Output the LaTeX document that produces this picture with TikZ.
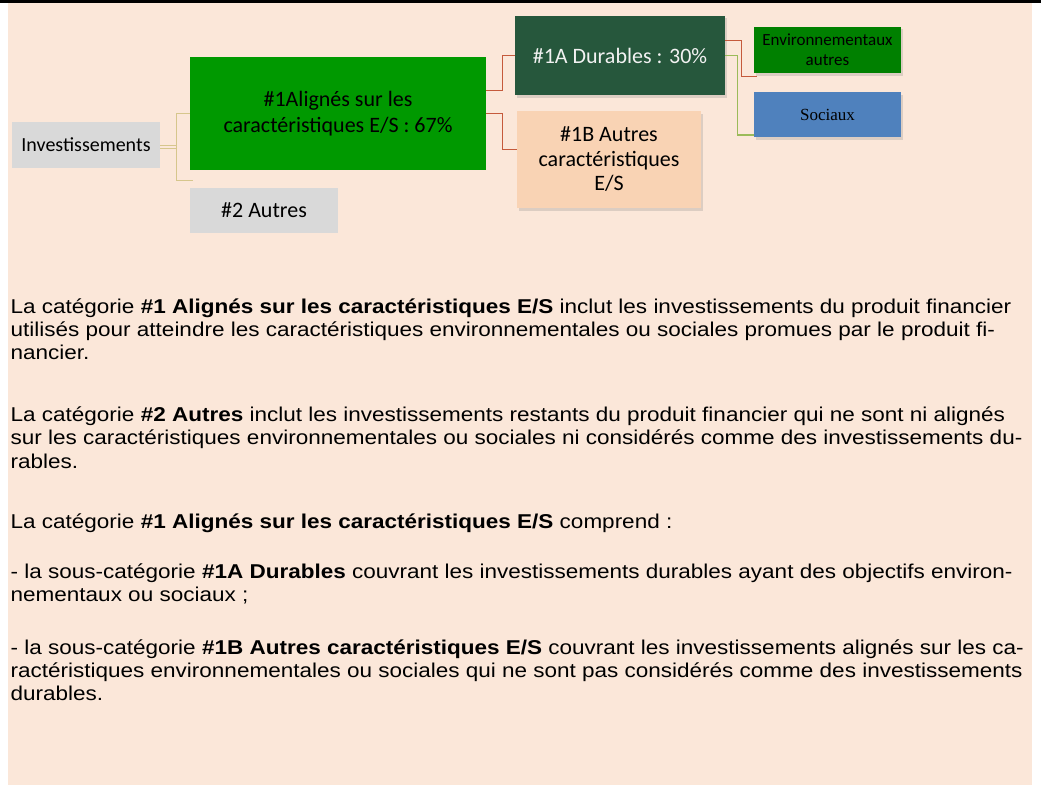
\documentclass[tikz,border=0pt]{standalone}
\usepackage{fontspec}
\setmainfont{Liberation Sans}[FakeStretch=1.125]
\newfontfamily\calfont{Carlito}
\newfontfamily\tmsfont{Liberation Serif}
\usetikzlibrary{shadows}
\definecolor{bgpeach}{HTML}{FBE7D9}
\definecolor{boxgray}{HTML}{D9D9D9}
\definecolor{algreen}{HTML}{009900}
\definecolor{darkgreen}{HTML}{26573C}
\definecolor{lightorange}{HTML}{F9D3B4}
\definecolor{envgreen}{HTML}{008000}
\definecolor{socblue}{HTML}{4F81BD}
\definecolor{redline}{HTML}{C55A3C}
\definecolor{oliveline}{HTML}{9BBB59}
\definecolor{tanline}{HTML}{D6C68C}
\definecolor{offwhite}{HTML}{F2F2F2}
\begin{document}
\begin{tikzpicture}[x=1pt,y=-1pt,
  boxbase/.style={draw=none, inner sep=0pt, align=center, font=\calfont\fontsize{22}{26}\selectfont},
  shadowed/.style={drop shadow={opacity=0.25, shadow xshift=2pt, shadow yshift=-2.5pt}},
  tanc/.style={draw=tanline, line width=1.2pt},
  redc/.style={draw=redline, line width=1.3pt},
  olivec/.style={draw=oliveline, line width=1.3pt},
  para/.style={anchor=base west, inner sep=0pt, font=\fontsize{20}{23}\selectfont}]
\useasboundingbox (0,0) rectangle (1041,792);
\fill[white] (0,0) rectangle (1041,792);
\fill[bgpeach] (8,3) rectangle (1032,785);
\fill[black] (0,0) rectangle (1041,3.5);

% boxes
\node[boxbase, fill=boxgray, minimum width=148pt, minimum height=46pt, font=\calfont\fontsize{20}{24}\selectfont] (inv) at (86,145) {Investissements};
\node[boxbase, fill=algreen, minimum width=296pt, minimum height=113pt] (a1) at (338,113.5) {\#1Alignés sur les\\caractéristiques E/S : 67\%};
\node[boxbase, fill=boxgray, minimum width=148pt, minimum height=45pt] (a2) at (264,210.5) {\#2 Autres};
\node[boxbase, fill=darkgreen, text=offwhite, minimum width=210pt, minimum height=79pt, shadowed] (d1a) at (620,55.5) {\#1A Durables : 30\%};
\node[boxbase, fill=lightorange, minimum width=184pt, minimum height=97pt, shadowed, font=\calfont\fontsize{22}{24.5}\selectfont] (d1b) at (609,159.5) {\#1B Autres\\caractéristiques\\E/S};
\node[boxbase, fill=envgreen, minimum width=147pt, minimum height=46pt, shadowed, font=\calfont\fontsize{17}{20}\selectfont] (env) at (827.5,50) {Environnementaux\\autres};
\node[boxbase, fill=socblue, minimum width=147pt, minimum height=45pt, shadowed, font=\tmsfont\fontsize{17}{20}\selectfont] (soc) at (827.5,114.5) {Sociaux};

% connectors
\coordinate (j0) at (176.5,147);
\draw[tanc, double=bgpeach, double distance=1.9pt] ([yshift=-2pt]inv.east) -- (j0);
\draw[tanc] (a1.west) -| (j0) |- ([shift={(3pt,7pt)}]a2.north west);
\draw[redc] ([yshift=23pt]a1.east) -- ++(16,0) |- (d1a.west);
\draw[redc] (a1.east) -- ++(16,0) |- ([yshift=10pt]d1b.west);
\draw[redc] ([yshift=15pt]d1a.east) -- ++(16,0) |- ([shift={(3pt,-26.5pt)}]env.west);
\draw[olivec] (d1a.east) -- ++(12,0) |- ([yshift=-20.5pt]soc.west);

% paragraphs
\node[para] (p1a) at (10.5,313) {La catégorie \textbf{\#1 Alignés sur les caractéristiques E/S} inclut les investissements du produit financier};
\node[para] (p1b) at (10.5,336) {utilisés pour atteindre les caractéristiques environnementales ou sociales promues par le produit fi-};
\node[para] (p1c) at (10.5,359) {nancier.};
\node[para] (p2a) at (10.5,421) {La catégorie \textbf{\#2 Autres} inclut les investissements restants du produit financier qui ne sont ni alignés};
\node[para] (p2b) at (10.5,444) {sur les caractéristiques environnementales ou sociales ni considérés comme des investissements du-};
\node[para] (p2c) at (10.5,468) {rables.};
\node[para] (p3a) at (10.5,528) {La catégorie \textbf{\#1 Alignés sur les caractéristiques E/S} comprend :};
\node[para] (p4a) at (10.5,578) {- la sous-catégorie \textbf{\#1A Durables} couvrant les investissements durables ayant des objectifs environ-};
\node[para] (p4b) at (10.5,601) {nementaux ou sociaux ;};
\node[para] (p5a) at (10.5,654) {- la sous-catégorie \textbf{\#1B Autres caractéristiques E/S} couvrant les investissements alignés sur les ca-};
\node[para] (p5b) at (10.5,677) {ractéristiques environnementales ou sociales qui ne sont pas considérés comme des investissements};
\node[para] (p5c) at (10.5,700) {durables.};
\end{tikzpicture}
\end{document}
